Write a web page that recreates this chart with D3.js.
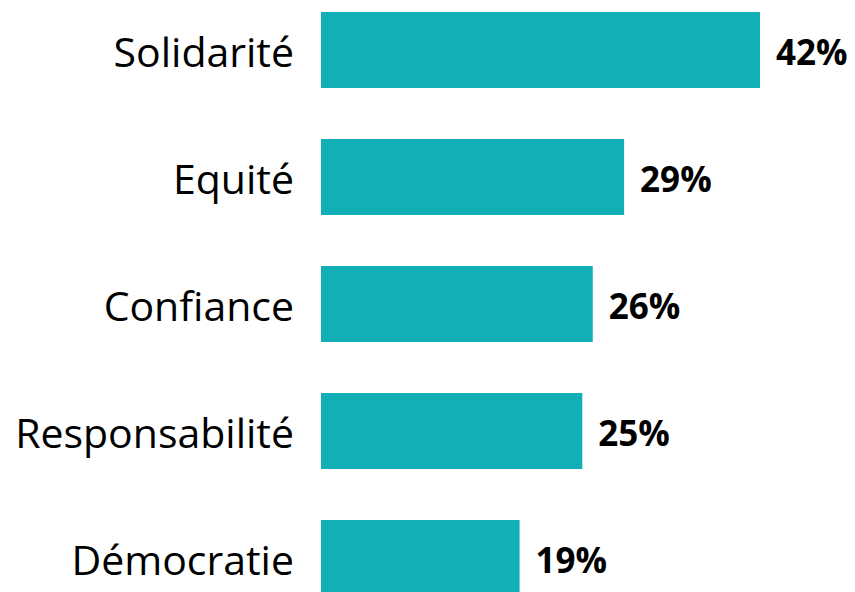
<!DOCTYPE html>
<html>
<head>
<meta charset="utf-8">
<script src="https://cdn.jsdelivr.net/npm/d3@7"></script>
<style>
  body { margin: 0; background: #fff; }
</style>
</head>
<body>
<svg id="chart"></svg>
<script>
// values
const categories = ['Solidarité', 'Equité', 'Confiance', 'Responsabilité', 'Démocratie']
const values = [42, 29, 26, 25, 19]

const width = 855
const height = 592
const barLeft = 321

const svg = d3.select('#chart')
  .attr('width', width)
  .attr('height', height)

// x scale: 0% starts at the left edge of the bars
const xScale = d3.scaleLinear().domain([0, 42]).range([barLeft, 760])

// y scale: one band per category, step ~127px, bar ~76px
const yScale = d3.scaleBand()
  .domain(categories)
  .range([12, 596])
  .paddingInner(0.4016)
  .paddingOuter(0)

const rows = categories.map((c, i) => ({ name: c, value: values[i] }))

svg.selectAll('rect.bar')
  .data(rows)
  .enter().append('rect')
  .attr('class', 'bar')
  .attr('x', xScale(0))
  .attr('y', d => yScale(d.name))
  .attr('width', d => xScale(d.value) - xScale(0))
  .attr('height', yScale.bandwidth())
  .attr('fill', '#13afb7')

// category labels on the left
svg.selectAll('text.cat')
  .data(rows)
  .enter().append('text')
  .attr('class', 'cat')
  .attr('x', 294)
  .attr('y', d => yScale(d.name) + yScale.bandwidth() / 2 + 17)
  .attr('text-anchor', 'end')
  .style('font-family', '"Open Sans", sans-serif')
  .style('font-size', '41px')
  .style('fill', '#000')
  .text(d => d.name)

// value labels after the bars
svg.selectAll('text.val')
  .data(rows)
  .enter().append('text')
  .attr('class', 'val')
  .attr('x', d => xScale(d.value) + 16)
  .attr('y', d => yScale(d.name) + yScale.bandwidth() / 2 + 15)
  .style('font-family', '"Open Sans", sans-serif')
  .style('font-weight', 'bold')
  .style('font-size', '35px')
  .style('fill', '#000')
  .text(d => d.value + '%')
</script>
</body>
</html>
